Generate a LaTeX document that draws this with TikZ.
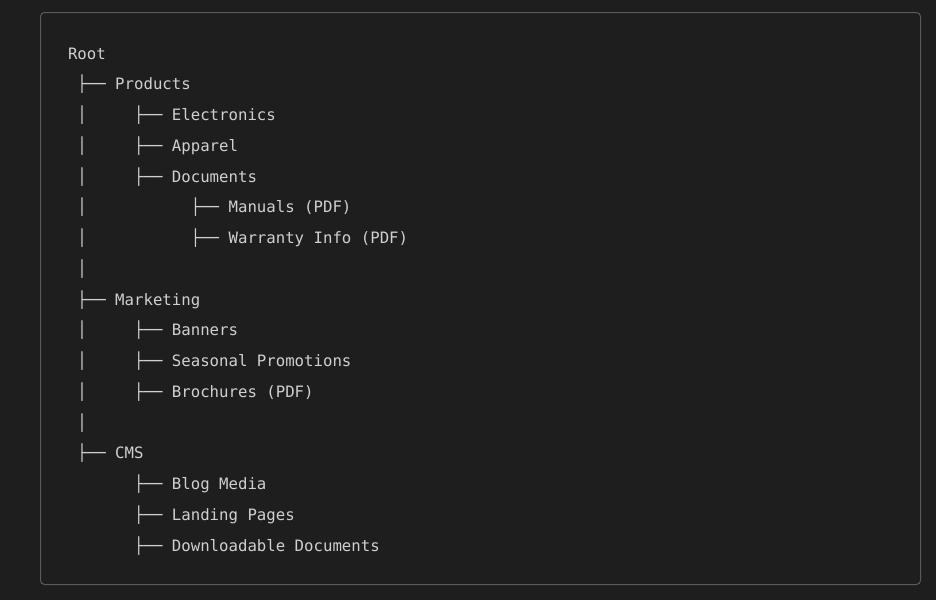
\documentclass[tikz,border=0pt]{standalone}
\usepackage{fontspec}
\newfontfamily\codefont{DejaVu Sans Mono}
\definecolor{bg}{HTML}{1E1E1E}
\definecolor{framecol}{HTML}{5A5A5A}
\definecolor{ink}{HTML}{D0D0D0}
\begin{document}
\frenchspacing
\begin{tikzpicture}[x=0.75pt,y=-0.75pt,
  codeline/.style={anchor=base west, inner sep=0pt, outer sep=0pt, text=ink,
    font=\codefont\fontsize{11.77}{14}\selectfont}]
\fill[bg] (0,0) rectangle (936,600);
\useasboundingbox (0,0) rectangle (936,600);
\draw[framecol, line width=0.75pt, rounded corners=3pt] (40.5,12.5) rectangle (920.5,584.5);
\node[codeline] (l0)  at (68,59)     {Root};
\node[codeline] (l1)  at (68,89.75)  {~├──~Products};
\node[codeline] (l2)  at (68,120.5)  {~│~~~~~├──~Electronics};
\node[codeline] (l3)  at (68,151.25) {~│~~~~~├──~Apparel};
\node[codeline] (l4)  at (68,182)    {~│~~~~~├──~Documents};
\node[codeline] (l5)  at (68,212.75) {~│~~~~~~~~~~~├──~Manuals (PDF)};
\node[codeline] (l6)  at (68,243.5)  {~│~~~~~~~~~~~├──~Warranty Info (PDF)};
\node[codeline] (l7)  at (68,274.25) {~│};
\node[codeline] (l8)  at (68,305)    {~├──~Marketing};
\node[codeline] (l9)  at (68,335.75) {~│~~~~~├──~Banners};
\node[codeline] (l10) at (68,366.5)  {~│~~~~~├──~Seasonal Promotions};
\node[codeline] (l11) at (68,397.25) {~│~~~~~├──~Brochures (PDF)};
\node[codeline] (l12) at (68,428)    {~│};
\node[codeline] (l13) at (68,458.75) {~├──~CMS};
\node[codeline] (l14) at (68,489.5)  {~~~~~~~├──~Blog Media};
\node[codeline] (l15) at (68,520.25) {~~~~~~~├──~Landing Pages};
\node[codeline] (l16) at (68,551)    {~~~~~~~├──~Downloadable Documents};
\end{tikzpicture}
\end{document}
